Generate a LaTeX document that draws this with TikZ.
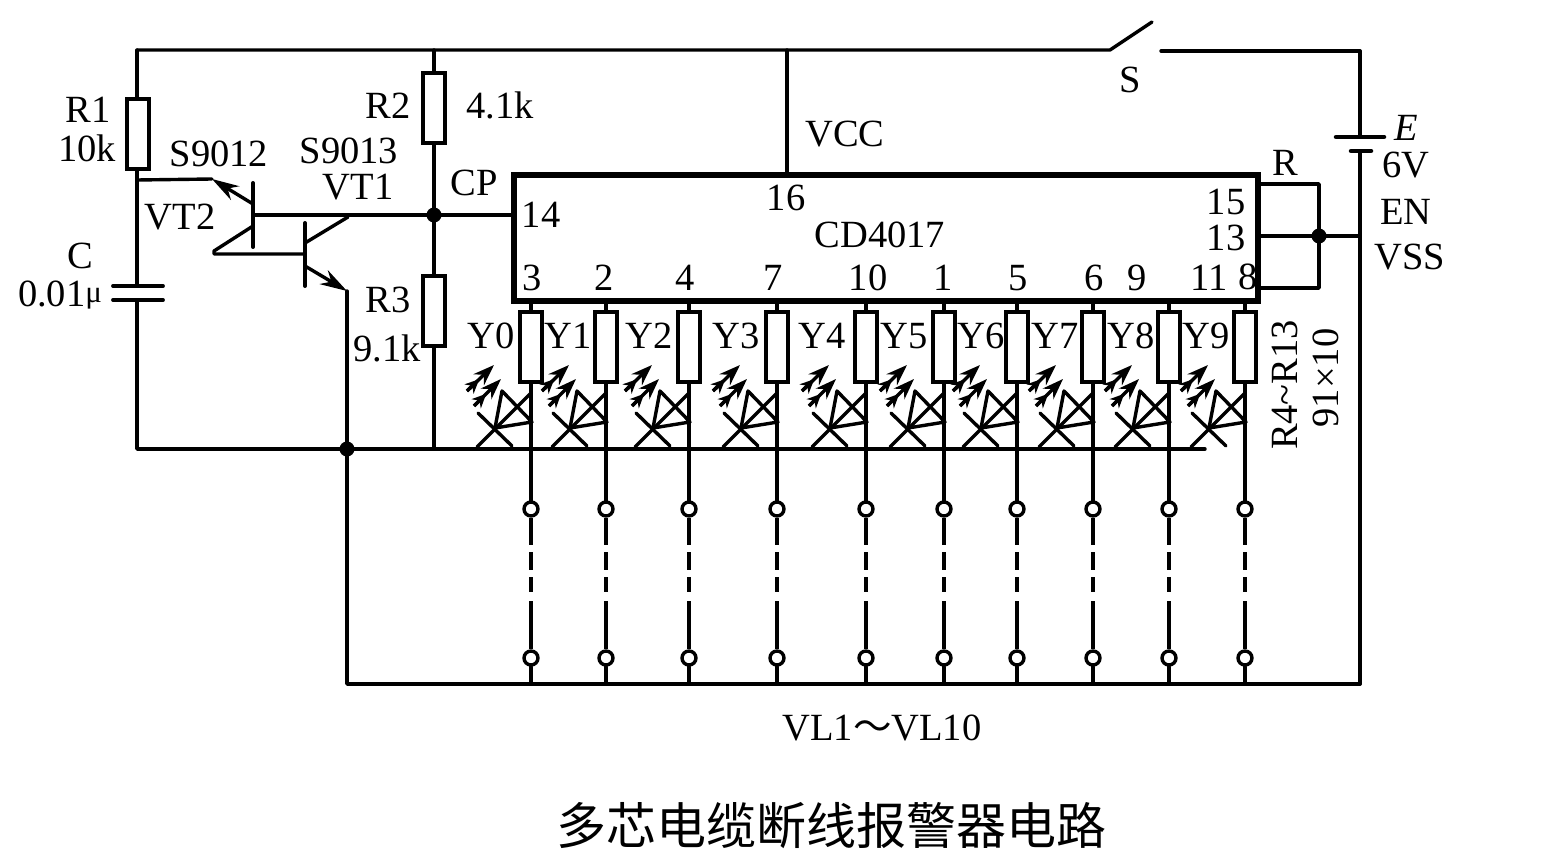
\documentclass[tikz,border=0pt]{standalone}
\usepackage{fontspec}
\setmainfont{Liberation Serif}
\newfontfamily\cjk{Noto Sans CJK SC}
\usetikzlibrary{arrows.meta,calc}
\tikzset{
  wire/.style={line width=3.4pt,line cap=round,line join=round,black},
  heavy/.style={line width=4.5pt,line cap=round,black},
  res/.style={draw,line width=3.4pt,rectangle,minimum width=22pt,minimum height=70pt,inner sep=0pt,fill=white},
  dot/.style={circle,fill=black,draw=none,minimum size=15pt,inner sep=0pt},
  term/.style={circle,draw,line width=3.4pt,fill=white,minimum size=14pt,inner sep=0pt},
  txt/.style={font=\fontsize{38.5}{38.5}\selectfont,inner sep=0pt},
  chip/.style={draw,line width=5.5pt,rectangle,minimum width=744pt,minimum height=126pt,inner sep=0pt},
  light/.style={line width=3.4pt,-{Stealth[length=21pt,width=15pt]}},
  tail/.style={line width=3.4pt,-{Stealth[length=14pt,width=13pt]}},
  emit/.style={wire,-{Stealth[length=27pt,width=16pt]}},
}
\begin{document}
\begin{tikzpicture}[x=1pt,y=-1pt]
\useasboundingbox (0,0) rectangle (1553,861);
% main rails
\coordinate (tl) at (137,50);
\coordinate (bl) at (137,449);
\coordinate (swa) at (1110,50);
\coordinate (swb) at (1152,22);
\coordinate (swc) at (1161,51);
\coordinate (tr) at (1360,51);
\coordinate (br) at (1360,684);
\coordinate (railend) at (1205,449);
\coordinate (emj) at (347,449);
\coordinate (bb) at (347,684);
\coordinate (r2top) at (434,50);
\coordinate (r3bot) at (434,449);
\coordinate (cpj) at (434,215);
\coordinate (vcctop) at (787,50);
% chip
\node[chip] (ic) at (886,238) {};
\draw[wire] (tl) -- (swa) -- (swb);
\draw[wire] (swc) -- (tr);
\draw[wire] (tl) -- (bl) -- (railend);
\draw[wire] (r2top) -- (r3bot);
\draw[wire] (vcctop) -- (vcctop |- ic.north);
\draw[wire] (cpj) -- (cpj -| ic.west);
\draw[wire] (emj) -- (bb) -- (br);
% battery
\coordinate (batA) at (1360,137);
\coordinate (batB) at (1360,151);
\coordinate (batAl) at (1336,137);
\coordinate (batAr) at (1384,137);
\coordinate (batBl) at (1351,151);
\coordinate (batBr) at (1371,151);
\draw[wire] (tr) -- (batA);
\draw[heavy] (batAl) -- (batAr);
\draw[heavy] (batBl) -- (batBr);
\draw[wire] (batB) -- (br);
% reset loop
\coordinate (p15) at (1258,184);
\coordinate (p13) at (1258,236);
\coordinate (p8) at (1258,288);
\coordinate (lt) at (1319,184);
\coordinate (lb) at (1319,288);
\coordinate (lj) at (1319,236);
\coordinate (vssj) at (1360,236);
\draw[wire] (p15) -- (lt) -- (lb) -- (p8);
\draw[wire] (p13) -- (vssj);
\node[dot] (dj) at (lj) {};
% R1,R2,R3
\node[res] (R1) at (138,134) {};
\node[res] (R2) at (434,108) {};
\node[res] (R3) at (434,311) {};
% capacitor
\coordinate (cal) at (113,286);
\coordinate (car) at (163,286);
\coordinate (cbl) at (113,300);
\coordinate (cbr) at (163,300);
\draw[white,line width=6pt] (137,288) -- (137,298);
\draw[heavy,line width=3.8pt] (cal) -- (car);
\draw[heavy,line width=3.8pt] (cbl) -- (cbr);
% VT2
\coordinate (b2t) at (253,183);
\coordinate (b2b) at (253,247);
\coordinate (b2m) at (253,215);
\coordinate (e2) at (253,204);
\coordinate (e2o) at (212,179);
\coordinate (e2l) at (137,180);
\coordinate (c2) at (253,226);
\coordinate (c2o) at (214,251);
\coordinate (c2e) at (214,254);
\coordinate (b1m) at (305,254);
\draw[heavy,line width=4pt] (b2t) -- (b2b);
\draw[wire] (b2m) -- (cpj);
\draw[emit] (e2) -- (e2o);
\draw[wire] (e2o) -- (e2l);
\draw[wire] (c2) -- (c2o) -- (c2e) -- (b1m);
% VT1
\coordinate (b1t) at (305,223);
\coordinate (b1b) at (305,286);
\coordinate (c1) at (305,243);
\coordinate (c1o) at (348,217);
\coordinate (e1) at (305,266);
\coordinate (e1o) at (347,291);
\draw[heavy,line width=4pt] (b1t) -- (b1b);
\draw[wire] (c1) -- (c1o);
\draw[emit] (e1) -- (e1o);
\draw[wire] (e1o) -- (emj);
\node[dot] (dcp) at (cpj) {};
\node[dot] (dem) at (emj) {};
% outputs
\foreach \i/\x in {0/531,1/606,2/689,3/777,4/866,5/944,6/1017,7/1093,8/1169,9/1245}{
  \node[res] (o\i) at (\x,347) {};
  \node[term] (ta\i) at (\x,509) {};
  \node[term] (tb\i) at (\x,658) {};
  \coordinate (da\i) at (\x,545);
  \coordinate (db\i) at (\x,552);
  \coordinate (dc\i) at (\x,570);
  \coordinate (dd\i) at (\x,577);
  \coordinate (de\i) at (\x,592);
  \coordinate (df\i) at (\x,601);
  \coordinate (rl\i) at (\x,684);
  \draw[wire] (o\i.north) -- (o\i.north |- ic.south);
  \draw[wire] (o\i.south) -- (ta\i.north);
  \draw[heavy,line cap=butt] (ta\i.south) -- (da\i);
  \draw[heavy,line cap=butt] (db\i) -- (dc\i);
  \draw[heavy,line cap=butt] (dd\i) -- (de\i);
  \draw[heavy,line cap=butt] (df\i) -- (tb\i.north);
  \draw[wire] (tb\i.south) -- (rl\i);
  % LED
  \begin{scope}[shift={(\x,0)}]
    \coordinate (ca\i) at (-36,428);
    \coordinate (cb\i) at (-54,447);
    \coordinate (cc\i) at (0,393);
    \coordinate (cd\i) at (-53,413);
    \coordinate (ce\i) at (-19,446);
    \coordinate (cf\i) at (-29,391);
    \coordinate (cg\i) at (1,422);
    \draw[wire] (cb\i) -- (cc\i);
    \draw[wire] (cd\i) -- (ce\i);
    \draw[wire] (ca\i) -- (cf\i) -- (cg\i) -- cycle;
    \coordinate (la\i) at (-64,391);
    \coordinate (lb\i) at (-37,365);
    \coordinate (lc\i) at (-57,406);
    \coordinate (ld\i) at (-30,379);
    \coordinate (le\i) at ($(la\i)!0.45!(lb\i)$);
    \coordinate (lf\i) at ($(lc\i)!0.45!(ld\i)$);
    \draw[light] (la\i) -- (lb\i);
    \draw[light] (lc\i) -- (ld\i);
    \draw[tail] (la\i) -- (le\i);
    \draw[tail] (lc\i) -- (lf\i);
  \end{scope}
}
% pin labels
\foreach \n/\x/\y/\t in {a/532/278/3,b/604/278/2,c/685/278/4,d/773/278/7,e/868/278/10,f/943/278/1,g/1018/278/5,h/1094/278/6,i/1137/278/9,j/1209/278/11,k/1248/277/8,l/541/215/14,m/786/198/16,n/1226/202/15,o/1226/238/13}{
  \node[txt] (pin\n) at (\x,\y) {\t};
}
\foreach \n/\x in {0/491,1/568,2/649,3/736,4/822,5/904,6/981,7/1055,8/1131,9/1206}{
  \node[txt] (Y\n) at (\x,336) {Y\n};
}
\node[txt] (lR1) at (88,110) {R1};
\node[txt] (l10k) at (87,148) {10k};
\node[txt] (lS12) at (219,154) {S9012};
\node[txt] (lS13) at (349,151) {S9013};
\node[txt] (lVT1) at (358,187) {VT1};
\node[txt] (lVT2) at (180,217) {VT2};
\node[txt] (lC) at (80,256) {C};
\node[txt] (lCv) at (60,295) {0.01\raisebox{4pt}{\fontsize{31}{31}\selectfont μ}};
\node[txt] (lR2) at (388,106) {R2};
\node[txt] (l41) at (500,105) {4.1k};
\node[txt] (lCP) at (474,183) {CP};
\node[txt] (lR3) at (388,300) {R3};
\node[txt] (l91) at (387,348) {9.1k};
\node[txt] (lVCC) at (845,134) {VCC};
\node[txt] (lCD) at (880,235) {CD4017};
\node[txt] (lR) at (1285,163) {R};
\node[txt] (lE) at (1406,128) {\itshape E};
\node[txt] (l6V) at (1406,165) {6V};
\node[txt] (lEN) at (1406,212) {EN};
\node[txt] (lVSS) at (1410,257) {VSS};
\node[txt] (lS) at (1130,80) {S};
\node[txt,rotate=90] (lR4) at (1285,385) {R4\textasciitilde R13};
\node[txt,rotate=90] (l9110) at (1326,378) {91×10};
\node[txt] (lVL) at (882,728) {VL1{\cjk ～}VL10};
\node[inner sep=0pt,font=\cjk\fontsize{50}{50}\selectfont] (title) at (831,826) {多芯电缆断线报警器电路};
\end{tikzpicture}
\end{document}
